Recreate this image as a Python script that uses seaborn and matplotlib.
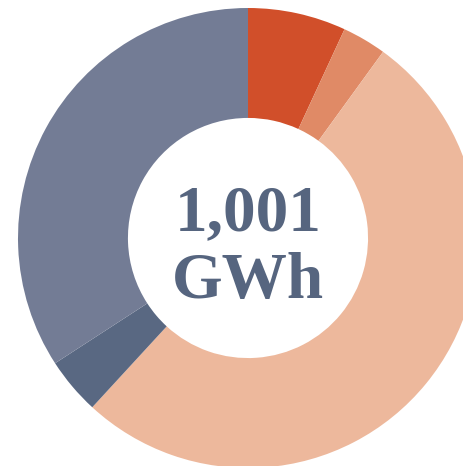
import matplotlib
matplotlib.use("Agg")
import matplotlib.pyplot as plt
import seaborn as sns

# --- DATOS ---
categories = ["Seg A", "Seg B", "Seg C", "Seg D", "Seg E"]
values_gwh = [69, 31, 519, 40, 342]
colors = ["#D14F2A", "#E08A66", "#EDB89C", "#596882", "#737C95"]
total_label = "1,001"
unit_label = "GWh"

sns.set_theme(style="white")

fig = plt.figure(figsize=(4.64, 4.66), dpi=100)
ax = fig.add_axes([0, 0, 1, 1])

ax.pie(values_gwh, colors=colors, startangle=90, counterclock=False,
       radius=1.0, wedgeprops=dict(width=0.478, edgecolor="none", linewidth=0))

# donut cropped by the figure edge (center at px 248, 238, radius 230 px)
ax.set_xlim(-248 / 230, (464 - 248) / 230)
ax.set_ylim(-(466 - 238) / 230, 238 / 230)
ax.set_aspect("auto")
ax.axis("off")

text_color = "#56657F"
ax.text(0, 0.035, total_label, ha="center", va="baseline", fontsize=47,
        fontweight="bold", family="Liberation Serif", color=text_color)
ax.text(0, -0.261, unit_label, ha="center", va="baseline", fontsize=47,
        fontweight="bold", family="Liberation Serif", color=text_color)

fig.savefig("out.png", dpi=100, facecolor="white")
